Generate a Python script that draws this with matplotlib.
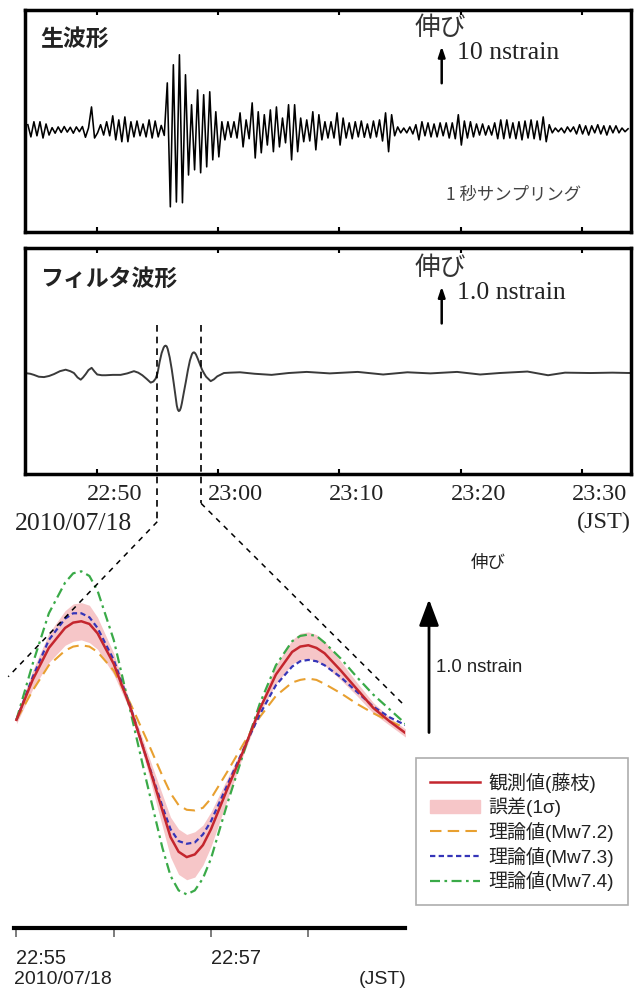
import numpy as np
import matplotlib
matplotlib.use('Agg')
import matplotlib.pyplot as plt
from matplotlib.lines import Line2D
from matplotlib.patches import Patch

# 1) data

# raw strain (nstrain), one value every 15 s starting 22:44:18 (minutes after 22:00)
raw_t0 = 44.3
raw_dt = 0.25
raw_strain = np.array([
    1.4, -1.9, 2.2, -1.6, 2.2, -2.2, 1.6, -1.4, 0.6, -0.9,
    0.8, -0.7, 0.9, -0.6, 0.7, -0.9, 0.8, -0.5, 0.9, -2.0,
    0.5, 6.2, -2.2, -0.8, 1.4, -1.4, 2.2, -1.6, 3.8, -2.7,
    2.7, -3.2, 3.5, -3.2, 2.2, -1.9, 2.4, -1.6, 1.6, -1.9,
    2.7, -2.2, 2.4, -1.9, 1.2, -1.5, 12.7, -20.8, 17.6, -19.5,
    20.3, -19.7, 14.9, -12.2, 6.8, -10.8, 10.8, -11.6, 9.5, -10.0,
    10.3, -8.1, 4.9, -7.3, 2.2, -2.7, 2.2, -2.0, 2.2, -2.2,
    4.6, -4.6, 2.7, -2.4, 7.3, -7.6, 4.9, -6.2, 4.1, -4.1,
    5.4, -5.9, 6.2, -4.6, 3.2, -3.5, 6.8, -8.1, 6.8, -5.9,
    3.2, -3.2, 2.7, -3.0, 4.9, -5.4, 4.1, -2.7, 2.2, -2.2,
    2.2, -2.2, 4.6, -4.1, 3.2, -2.2, 1.9, -2.4, 2.2, -1.9,
    2.4, -2.0, 1.6, -2.2, 2.4, -1.9, 2.7, -3.0, 4.6, -5.9,
    4.1, -1.6, 0.8, -0.8, 0.5, -0.8, 0.8, -1.1, 1.4, -2.7,
    2.2, -1.6, 1.9, -1.9, 1.6, -1.9, 1.9, -1.6, 1.9, -2.2,
    1.9, -2.4, 4.1, -4.1, 2.4, -2.2, 2.2, -1.9, 1.6, -1.4,
    1.6, -1.4, 1.1, -1.4, 1.9, -2.4, 2.7, -2.4, 2.7, -2.2,
    1.9, -2.4, 2.2, -2.7, 2.4, -2.2, 2.7, -2.4, 2.4, -2.7,
    3.5, -3.2, 1.4, -0.8, 0.5, -0.5, 0.5, -0.8, 0.8, -0.5,
    0.8, -1.1, 1.4, -1.1, 1.1, -1.4, 1.1, -0.8, 1.4, -1.1,
    1.1, -1.4, 1.1, -0.8, 1.1, -0.8, 0.5, -0.5, 0.3])

# filtered strain before / after the zoom window (minutes after 22:00, nstrain)
filt_pre_t = [44.04, 44.5, 44.8, 45.2, 45.63, 46.05, 46.45, 46.95, 47.42, 47.8,
              48.1, 48.4, 48.66, 48.85, 49.07, 49.3, 49.56, 49.8, 50.02, 50.4,
              50.72, 51.3, 51.95, 52.5, 53.05, 53.4, 53.74, 54.1, 54.43, 54.65, 54.84]
filt_pre_v = [0.0, -0.02, -0.05, -0.1, -0.11, -0.08, -0.03, 0.05, 0.09, 0.05,
              0.0, -0.12, -0.18, -0.12, -0.03, 0.08, 0.14, 0.04, -0.04, -0.06,
              -0.06, -0.05, -0.05, -0.01, 0.05, 0.01, -0.06, -0.16, -0.26, -0.23, -0.15]
filt_post_t = [59.38, 59.65, 59.92, 60.47, 61.0, 61.8, 63.0, 64.4, 65.8, 67.3,
               69.2, 71.5, 73.6, 75.6, 77.5, 79.7, 81.6, 83.2, 85.5, 87.2,
               88.6, 90.7, 92.5, 94.0]
filt_post_v = [-0.22, -0.17, -0.09, 0.0, 0.01, 0.02, -0.02, -0.05, 0.0, 0.03,
               -0.01, 0.03, -0.04, 0.02, -0.01, 0.03, -0.04, 0.0, 0.04, -0.06,
               0.01, 0.0, 0.01, 0.0]

# zoom window, seconds after 22:55:00
zoom_t = [0, 10, 20, 30, 35, 40, 45, 50, 60, 70, 80, 90, 95, 100, 105, 110,
          115, 120, 130, 140, 150, 160, 170, 175, 180, 185, 190, 200, 210, 220, 230, 240]
obs = [0.0, 0.3, 0.54, 0.69, 0.73, 0.74, 0.72, 0.65, 0.42, 0.1, -0.28, -0.68, -0.88, -0.99, -1.03, -1.01,
       -0.94, -0.82, -0.52, -0.23, 0.08, 0.34, 0.51, 0.55, 0.56, 0.54, 0.5, 0.37, 0.23, 0.09, -0.01, -0.1]
obs_err = [0.03, 0.07, 0.11, 0.13, 0.14, 0.14, 0.14, 0.12, 0.08, 0.03, 0.06, 0.12, 0.15, 0.17, 0.17, 0.17,
           0.15, 0.13, 0.08, 0.03, 0.03, 0.07, 0.09, 0.1, 0.1, 0.1, 0.09, 0.07, 0.05, 0.04, 0.03, 0.03]
mw72 = [0.0, 0.22, 0.41, 0.52, 0.55, 0.56, 0.55, 0.51, 0.37, 0.13, -0.14, -0.42, -0.55, -0.64, -0.675, -0.68,
        -0.66, -0.59, -0.39, -0.18, 0.02, 0.18, 0.28, 0.3, 0.31, 0.3, 0.27, 0.2, 0.12, 0.05, -0.01, -0.06]
mw73 = [0.0, 0.32, 0.6, 0.76, 0.8, 0.8, 0.77, 0.69, 0.45, 0.11, -0.28, -0.65, -0.82, -0.91, -0.93, -0.92,
        -0.86, -0.76, -0.49, -0.22, 0.04, 0.26, 0.4, 0.44, 0.45, 0.44, 0.41, 0.32, 0.21, 0.1, 0.02, -0.04]
mw74 = [0.0, 0.42, 0.8, 1.03, 1.1, 1.115, 1.08, 0.97, 0.6, 0.08, -0.45, -0.96, -1.17, -1.28, -1.31, -1.28,
        -1.19, -1.04, -0.63, -0.25, 0.12, 0.41, 0.59, 0.63, 0.64, 0.63, 0.58, 0.46, 0.32, 0.19, 0.08, -0.03]

time_ticks = [50, 60, 70, 80, 90]
time_labels = ['22:50', '23:00', '23:10', '23:20', '23:30']
zoom_ticks = [0, 60, 120, 180]
zoom_labels = ['22:55', '', '22:57', '']
window = (54.97, 58.58)   # marked span in the filtered panel

legend_labels = ['観測値(藤枝)', '誤差(1σ)', '理論値(Mw7.2)', '理論値(Mw7.3)', '理論値(Mw7.4)']

JP = ['Noto Sans CJK JP']
SERIF = ['Liberation Serif', 'Noto Sans CJK JP']
SANS = ['Liberation Sans', 'Noto Sans CJK JP']

W, H = 640, 989
fig = plt.figure(figsize=(W / 100, H / 100), dpi=100)


def rect(x0, y0, x1, y1):
    return [x0 / W, 1 - y1 / H, (x1 - x0) / W, (y1 - y0) / H]


def ftext(x, y, s, **kw):
    fig.text(x / W, 1 - y / H, s, **kw)


# 2) raw + filtered panels
raw_time = raw_t0 + raw_dt * np.arange(len(raw_strain))
filt_t = filt_pre_t + [55 + t / 60 for t in zoom_t] + filt_post_t
filt_v = filt_pre_v + obs + filt_post_v

ax1 = fig.add_axes(rect(24.7, 10, 630.5, 232))
ax2 = fig.add_axes(rect(24.7, 248, 630.5, 474))
ax1.plot(raw_time, raw_strain, color='k', lw=1.15)
ax2.plot(filt_t, filt_v, color='#3a3a3a', lw=1.4)
ax1.set_ylim(-27.6, 32.4)
ax2.set_ylim(-2.73, 3.38)

for ax in (ax1, ax2):
    ax.set_xlim(44.04, 94.0)
    ax.set_xticks(time_ticks)
    ax.set_yticks([])
    ax.tick_params(axis='x', direction='in', top=True, bottom=True, length=3.6, width=1.5,
                   labelbottom=False)
    for sp in ax.spines.values():
        sp.set_linewidth(2.5)

for t, lab in zip(time_ticks, time_labels):
    ax2.annotate(lab, xy=(t, 0), xycoords=('data', 'axes fraction'), xytext=(12.5, -15),
                 textcoords='offset points', ha='center', va='center',
                 family=SERIF, fontsize=17.5, color='#222')

# scale arrows
ax1.annotate('', xy=(78.43, 22.6), xytext=(78.43, 12.6),
             arrowprops=dict(arrowstyle='-|>,head_length=0.6,head_width=0.2', color='k', lw=1.8,
                             shrinkA=0, shrinkB=0))
ax2.annotate('', xy=(78.43, 2.34), xytext=(78.43, 1.34),
             arrowprops=dict(arrowstyle='-|>,head_length=0.6,head_width=0.2', color='k', lw=1.8,
                             shrinkA=0, shrinkB=0))

ftext(40, 39, '生波形', family=JP, fontsize=16.5, fontweight='bold', va='center', color='#222')
ftext(40, 279, 'フィルタ波形', family=JP, fontsize=16.5, fontweight='bold', va='center', color='#222')
ftext(415, 28, '伸び', family=JP, fontsize=18.5, va='center', color='#333')
ftext(415, 268, '伸び', family=JP, fontsize=18.5, va='center', color='#333')
ftext(457, 53, '10 nstrain', family=SERIF, fontsize=18.5, va='center', color='#222')
ftext(457, 293, '1.0 nstrain', family=SERIF, fontsize=18.5, va='center', color='#222')
ftext(446, 195, '1 秒サンプリング', family=JP, fontsize=12.5, va='center', color='#444')
ftext(15, 524, '2010/07/18', family=SERIF, fontsize=18.5, va='center', color='#222')
ftext(631, 522, '(JST)', family=SERIF, fontsize=17.5, va='center', ha='right', color='#222')

# 3) zoomed comparison
ax3 = fig.add_axes(rect(14, 540, 405, 927.7))
ax3.fill_between(zoom_t, np.array(obs) - np.array(obs_err), np.array(obs) + np.array(obs_err),
                 color='#f6c6c8', lw=0)
sty72 = dict(color='#e8a030', lw=1.5, ls=(0, (5.5, 3)))
sty73 = dict(color='#3535b8', lw=1.6, ls=(0, (2.4, 1.5)))
sty74 = dict(color='#3aaa48', lw=1.6, ls=(0, (4.5, 2, 1.2, 2)))
styobs = dict(color='#c4262e', lw=1.8)
ax3.plot(zoom_t, mw72, **sty72)
ax3.plot(zoom_t, mw73, **sty73)
ax3.plot(zoom_t, mw74, **sty74)
ax3.plot(zoom_t, obs, **styobs)
ax3.set_xlim(-1.5, 239.6)
ax3.set_ylim(-1.56, 1.35)
for s in ('top', 'left', 'right'):
    ax3.spines[s].set_visible(False)
ax3.spines['bottom'].set_linewidth(3)
ax3.set_yticks([])
ax3.set_xticks(zoom_ticks)
ax3.set_xticklabels(zoom_labels, ha='left', family=SANS, fontsize=14.4, color='#222')
ax3.tick_params(axis='x', direction='out', length=6.5, width=1.2, color='#666', pad=9)

ax3.annotate('', xy=(254.4, 0.905), xytext=(254.4, -0.095), annotation_clip=False,
             arrowprops=dict(arrowstyle='-|>,head_length=0.8,head_width=0.3', color='k', lw=2,
                             shrinkA=0, shrinkB=0, mutation_scale=20))
ftext(488, 563, '伸び', family=JP, fontsize=12.6, ha='center', va='center', color='#222')
ftext(436, 668, '1.0 nstrain', family=SANS, fontsize=13.3, va='center', color='#222')
ftext(14, 979, '2010/07/18', family=SANS, fontsize=14, va='center', color='#222')
ftext(406, 979, '(JST)', family=SANS, fontsize=14, va='center', ha='right', color='#222')

handles = [Line2D([], [], **styobs), Patch(color='#f6c6c8'),
           Line2D([], [], **sty72), Line2D([], [], **sty73), Line2D([], [], **sty74)]
leg = fig.legend(handles, legend_labels, loc='upper left', bbox_to_anchor=(416 / W, 1 - 758 / H),
                 frameon=True, fancybox=False, edgecolor='#999999', borderaxespad=0,
                 prop=dict(family=SANS, size=13.7), handlelength=2.6, handletextpad=0.45,
                 labelspacing=0.25, borderpad=0.75)
leg.get_frame().set_linewidth(1.2)
for txt in leg.get_texts():
    txt.set_color('#222')

# 4) dashed zoom guides
ov = fig.add_axes([0, 0, 1, 1])
ov.set_xlim(0, W)
ov.set_ylim(H, 0)
ov.axis('off')
x0 = ax2.transData.transform((window[0], 0))[0]
x1 = ax2.transData.transform((window[1], 0))[0]
ov.plot([x0, x0], [325, 521.7], color='k', lw=1.2, ls=(0, (4, 3)))
ov.plot([x1, x1], [325, 503.3], color='k', lw=1.2, ls=(0, (4, 3)))
ov.plot([x0, 8.2], [521.7, 676.7], color='k', lw=1.1, ls=(0, (3.5, 3.5)))
ov.plot([x1, 404], [503.3, 705], color='k', lw=1.1, ls=(0, (3.5, 3.5)))

fig.savefig('out.png', dpi=100)
